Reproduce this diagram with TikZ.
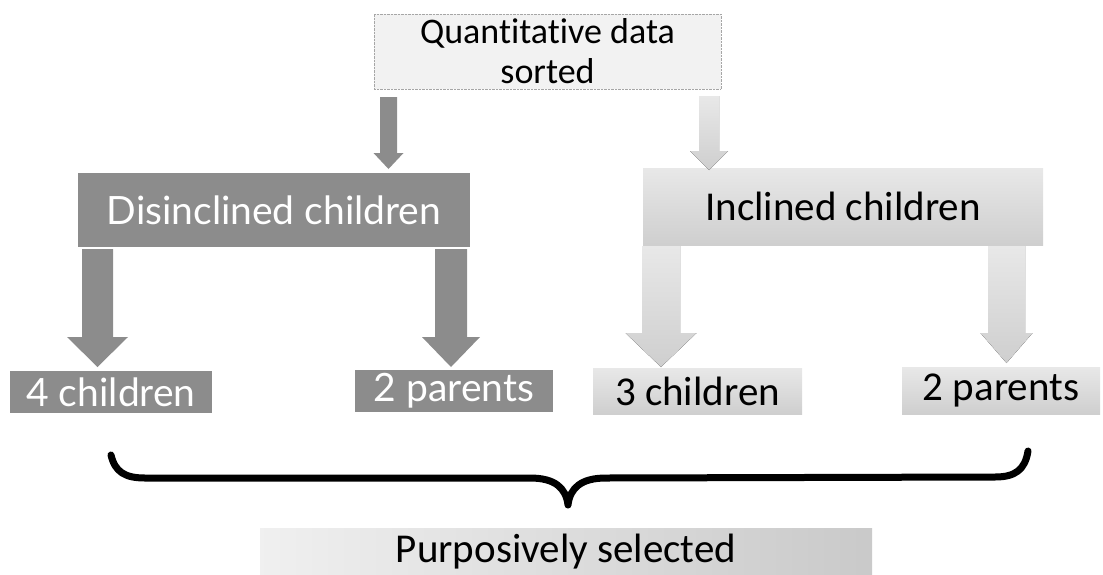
\documentclass[tikz,border=0pt]{standalone}
\usepackage{fontspec}
\setmainfont{Carlito}[Ligatures=NoCommon]
\newfontfamily\gill{Lato}
\usetikzlibrary{shadings}
\definecolor{darkbox}{HTML}{8C8C8C}
\tikzset{
  darkfill/.style={fill=darkbox},
  lightfill/.style={top color=gray!18, bottom color=gray!38},
  darkbx/.style={darkfill, inner sep=0pt, text=white, font=\gill\fontsize{39}{40}\selectfont},
  lightbx/.style={lightfill, inner sep=0pt, text=black, font=\fontsize{41}{44}\selectfont},
  bracepath/.style={line width=7pt, line cap=round, line join=round},
}
% block arrow: #1 style, #2 x centre, #3 y top, #4 y tip, #5 half shaft, #6 half head, #7 head start
\newcommand\barrow[7]{%
  \fill[#1] (#2-#5,#3) -- (#2+#5,#3) -- (#2+#5,#7) -- (#2+#6,#7) -- (#2,#4) -- (#2-#6,#7) -- (#2-#5,#7) -- cycle;}
\begin{document}
\begin{tikzpicture}[x=1pt,y=-1pt]
\useasboundingbox (0,0) rectangle (1103,574);
% top box
\node[draw=gray!70, densely dotted, fill=gray!10, inner sep=0pt, minimum width=347pt, minimum height=75pt,
      align=center, font=\fontsize{36}{40}\selectfont] (top) at (547.5,51.5) {Quantitative data\\sorted};
% second level
\node[darkbx, minimum width=392pt, minimum height=74pt] (dis) at (274,210) {Disinclined children};
\node[lightbx, minimum width=400pt, minimum height=77pt] (inc) at (843,206.5) {Inclined children};
% third level
\node[darkbx, minimum width=202pt, minimum height=42pt] (c4) at (111,392) {4 children};
\node[darkbx, minimum width=198pt, minimum height=42pt] (p2l) at (454,391) {2 parents};
\node[lightbx, minimum width=209pt, minimum height=46pt] (c3) at (697.5,391) {3 children};
\node[lightbx, minimum width=198pt, minimum height=47pt] (p2r) at (1001,390.5) {2 parents};
% bottom
\node[left color=gray!12, right color=gray!42, inner sep=0pt, minimum width=612pt, minimum height=47pt,
      font=\fontsize{41}{44}\selectfont] (purp) at (566,551.5) {Purposively selected};
% arrows
\barrow{darkfill}{388.5}{97}{169}{8.5}{15}{153}
\barrow{lightfill}{709}{96}{170}{10}{19}{151}
\barrow{darkfill}{97.5}{249}{367}{15.5}{30.5}{337}
\barrow{darkfill}{451}{249}{367}{16}{29}{337}
\barrow{lightfill}{661}{246}{367}{19}{35.5}{333}
\barrow{lightfill}{1006.5}{246}{363}{18.5}{26}{333}
% brace
\coordinate (bl) at (111,455);
\coordinate (bt) at (568,505);
\coordinate (br) at (1028,451);
\draw[bracepath] (bl) .. controls (115,472) and (125,478) .. (145,478) -- (530,478)
  .. controls (555,478) and (566,488) .. (bt)
  .. controls (570,488) and (581,478) .. (606,478) -- (995,477)
  .. controls (1015,477) and (1025,470) .. (br);
\end{tikzpicture}
\end{document}
